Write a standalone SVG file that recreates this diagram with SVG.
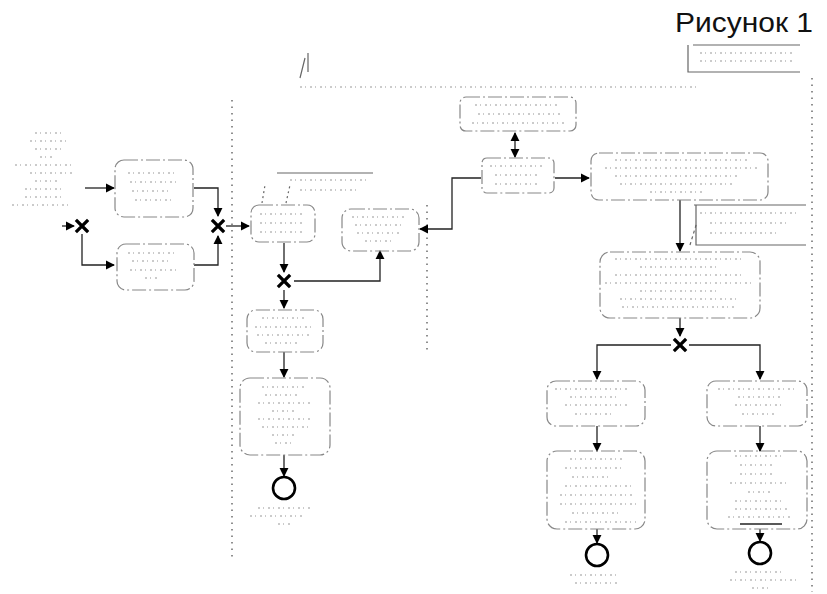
<svg xmlns="http://www.w3.org/2000/svg" width="827" height="594" viewBox="0 0 827 594">
<defs>
<marker id="ah" viewBox="0 0 10 10" refX="9" refY="5" markerWidth="7" markerHeight="7" orient="auto-start-reverse"><path d="M0,0 L10,5 L0,10 z" fill="#000"/></marker>
<style>
.box{fill:none;stroke:#888;stroke-width:1.2;stroke-dasharray:14 3 2 3}
.ln{fill:none;stroke:#222;stroke-width:1.3}
.gw{stroke:#000;stroke-width:3.2;stroke-linecap:square}
.end{fill:none;stroke:#000;stroke-width:2.6}
.lane{stroke:#555;stroke-width:1.3;stroke-dasharray:1.5 5}
.sp{stroke:#bbb;stroke-width:1.3;stroke-dasharray:2 3 1 4}
.ann{fill:none;stroke:#666;stroke-width:1.2}
.title{font-family:"Liberation Sans",Arial,sans-serif;font-size:28px;fill:#111}
</style>
</defs>
<rect width="827" height="594" fill="#fff"/>
<text class="title" x="675" y="32" textLength="138" lengthAdjust="spacingAndGlyphs">Рисунок 1</text>

<g id="lanes">
<line class="lane" x1="232" y1="100" x2="232" y2="560"/>
<line class="lane" x1="427" y1="205" x2="427" y2="350"/>
<line class="lane" x1="812" y1="78" x2="812" y2="592"/>
</g>

<g id="annotations">
<path class="ann" d="M308,53 L308,72 M300,78 L305,58"/>
<path class="ann" d="M693,45 L800,45 M688,45 L688,72 L800,72"/>
<path class="ann" d="M694,205 L806,205 M696,205 L696,245 L806,245"/>
<path class="ann" stroke-dasharray="3 3" d="M690,245 L697,222"/>
<path class="ann" d="M277,173 L373,173"/>
<path class="ann" stroke-dasharray="2 3" d="M262,203 L265,185 M286,203 L290,185"/>
<line class="sp" x1="300" y1="87" x2="700" y2="87"/>
<line class="sp" x1="700" y1="53" x2="795" y2="53"/>
<line class="sp" x1="700" y1="61" x2="795" y2="61"/>
<line class="sp" x1="700" y1="213" x2="800" y2="213"/>
<line class="sp" x1="710" y1="223" x2="790" y2="223"/>
<line class="sp" x1="710" y1="233" x2="780" y2="233"/>
<line class="sp" x1="290" y1="180" x2="370" y2="180"/>
<line class="sp" x1="300" y1="190" x2="360" y2="190"/>
</g>

<g id="lane-label">
<line class="sp" x1="35" y1="133" x2="65" y2="133"/>
<line class="sp" x1="30" y1="141" x2="68" y2="141"/>
<line class="sp" x1="35" y1="149" x2="65" y2="149"/>
<line class="sp" x1="40" y1="157" x2="55" y2="157"/>
<line class="sp" x1="15" y1="165" x2="72" y2="165"/>
<line class="sp" x1="30" y1="173" x2="72" y2="173"/>
<line class="sp" x1="35" y1="181" x2="60" y2="181"/>
<line class="sp" x1="25" y1="189" x2="62" y2="189"/>
<line class="sp" x1="25" y1="197" x2="65" y2="197"/>
<line class="sp" x1="12" y1="205" x2="70" y2="205"/>
</g>

<g id="connectors">
<path class="ln" d="M62,226 L74,226" marker-end="url(#ah)"/>
<path class="ln" d="M82,234 L82,265 L114,265" marker-end="url(#ah)"/>
<path class="ln" d="M85,188 L114,188" marker-end="url(#ah)"/>
<path class="ln" d="M194,188 L218,188 L218,216" marker-end="url(#ah)"/>
<path class="ln" d="M194,265 L218,265 L218,236" marker-end="url(#ah)"/>
<path class="ln" d="M226,226 L249,226" marker-end="url(#ah)"/>
<path class="ln" d="M284,243 L284,272" marker-end="url(#ah)"/>
<path class="ln" d="M284,290 L284,308" marker-end="url(#ah)"/>
<path class="ln" d="M294,281 L380,281 L380,251" marker-end="url(#ah)"/>
<path class="ln" d="M284,352 L284,377" marker-end="url(#ah)"/>
<path class="ln" d="M284,455 L284,476" marker-end="url(#ah)"/>
<path class="ln" d="M481,178 L452,178 L452,229 L420,229" marker-end="url(#ah)"/>
<path class="ln" d="M515,133 L515,157" marker-start="url(#ah)" marker-end="url(#ah)"/>
<path class="ln" d="M555,178 L589,178" marker-end="url(#ah)"/>
<path class="ln" d="M680,200 L680,251" marker-end="url(#ah)"/>
<path class="ln" d="M680,318 L680,336" marker-end="url(#ah)"/>
<path class="ln" d="M671,345 L597,345 L597,379" marker-end="url(#ah)"/>
<path class="ln" d="M689,345 L760,345 L760,379" marker-end="url(#ah)"/>
<path class="ln" d="M597,426 L597,451" marker-end="url(#ah)"/>
<path class="ln" d="M597,529 L597,543" marker-end="url(#ah)"/>
<path class="ln" d="M760,426 L760,451" marker-end="url(#ah)"/>
<path class="ln" d="M760,529 L760,541" marker-end="url(#ah)"/>
<line class="ln" x1="740" y1="524" x2="782" y2="524"/>
</g>

<g id="gw1"><path class="gw" d="M77,221 L87,231 M87,221 L77,231"/></g>
<g id="gw2"><path class="gw" d="M213,221 L223,231 M223,221 L213,231"/></g>
<g id="gw3"><path class="gw" d="M279,276 L289,286 M289,276 L279,286"/></g>
<g id="gw4"><path class="gw" d="M675,340 L685,350 M685,340 L675,350"/></g>

<g id="box1"><rect class="box" x="115" y="160" width="78" height="57" rx="9"/>
<line class="sp" x1="128" y1="173" x2="178" y2="173"/><line class="sp" x1="130" y1="182" x2="176" y2="182"/><line class="sp" x1="132" y1="191" x2="172" y2="191"/><line class="sp" x1="135" y1="200" x2="172" y2="200"/></g>
<g id="box2"><rect class="box" x="117" y="244" width="77" height="46" rx="9"/>
<line class="sp" x1="128" y1="253" x2="178" y2="253"/><line class="sp" x1="132" y1="261" x2="172" y2="261"/><line class="sp" x1="130" y1="270" x2="176" y2="270"/><line class="sp" x1="145" y1="278" x2="160" y2="278"/></g>
<g id="box3"><rect class="box" x="251" y="205" width="64" height="37" rx="8"/>
<line class="sp" x1="260" y1="214" x2="305" y2="214"/><line class="sp" x1="260" y1="223" x2="305" y2="223"/><line class="sp" x1="260" y1="232" x2="303" y2="232"/></g>
<g id="box4"><rect class="box" x="342" y="209" width="77" height="42" rx="9"/>
<line class="sp" x1="352" y1="217" x2="405" y2="217"/><line class="sp" x1="355" y1="225" x2="402" y2="225"/><line class="sp" x1="357" y1="233" x2="400" y2="233"/><line class="sp" x1="365" y1="241" x2="392" y2="241"/></g>
<g id="box13"><rect class="box" x="247" y="310" width="76" height="42" rx="9"/>
<line class="sp" x1="262" y1="318" x2="305" y2="318"/><line class="sp" x1="255" y1="327" x2="312" y2="327"/><line class="sp" x1="257" y1="335" x2="310" y2="335"/><line class="sp" x1="265" y1="343" x2="300" y2="343"/></g>
<g id="box14"><rect class="box" x="240" y="378" width="90" height="77" rx="10"/>
<line class="sp" x1="262" y1="387" x2="305" y2="387"/><line class="sp" x1="265" y1="395" x2="300" y2="395"/><line class="sp" x1="258" y1="403" x2="310" y2="403"/><line class="sp" x1="272" y1="411" x2="295" y2="411"/><line class="sp" x1="258" y1="419" x2="313" y2="419"/><line class="sp" x1="262" y1="427" x2="310" y2="427"/><line class="sp" x1="272" y1="435" x2="296" y2="435"/><line class="sp" x1="275" y1="443" x2="292" y2="443"/></g>
<g id="box6"><rect class="box" x="460" y="97" width="116" height="34" rx="6"/>
<line class="sp" x1="475" y1="105" x2="560" y2="105"/><line class="sp" x1="478" y1="114" x2="560" y2="114"/><line class="sp" x1="472" y1="123" x2="565" y2="123"/></g>
<g id="box5"><rect class="box" x="482" y="158" width="72" height="35" rx="5"/>
<line class="sp" x1="490" y1="166" x2="545" y2="166"/><line class="sp" x1="495" y1="175" x2="540" y2="175"/><line class="sp" x1="495" y1="184" x2="540" y2="184"/></g>
<g id="box7"><rect class="box" x="591" y="153" width="177" height="47" rx="8"/>
<line class="sp" x1="615" y1="160" x2="750" y2="160"/><line class="sp" x1="605" y1="168" x2="760" y2="168"/><line class="sp" x1="615" y1="176" x2="740" y2="176"/><line class="sp" x1="620" y1="184" x2="735" y2="184"/><line class="sp" x1="650" y1="192" x2="705" y2="192"/></g>
<g id="box8"><rect class="box" x="600" y="252" width="160" height="66" rx="10"/>
<line class="sp" x1="615" y1="259" x2="745" y2="259"/><line class="sp" x1="640" y1="267" x2="720" y2="267"/><line class="sp" x1="615" y1="275" x2="745" y2="275"/><line class="sp" x1="605" y1="283" x2="755" y2="283"/><line class="sp" x1="640" y1="291" x2="720" y2="291"/><line class="sp" x1="620" y1="299" x2="740" y2="299"/><line class="sp" x1="622" y1="307" x2="735" y2="307"/></g>
<g id="box9"><rect class="box" x="547" y="381" width="98" height="45" rx="9"/>
<line class="sp" x1="555" y1="389" x2="630" y2="389"/><line class="sp" x1="570" y1="397" x2="620" y2="397"/><line class="sp" x1="565" y1="405" x2="628" y2="405"/><line class="sp" x1="575" y1="414" x2="615" y2="414"/></g>
<g id="box10"><rect class="box" x="707" y="381" width="100" height="45" rx="9"/>
<line class="sp" x1="718" y1="389" x2="795" y2="389"/><line class="sp" x1="738" y1="397" x2="780" y2="397"/><line class="sp" x1="735" y1="405" x2="782" y2="405"/><line class="sp" x1="742" y1="414" x2="775" y2="414"/></g>
<g id="box11"><rect class="box" x="547" y="451" width="98" height="78" rx="10"/>
<line class="sp" x1="570" y1="459" x2="625" y2="459"/><line class="sp" x1="565" y1="468" x2="625" y2="468"/><line class="sp" x1="572" y1="477" x2="612" y2="477"/><line class="sp" x1="565" y1="486" x2="632" y2="486"/><line class="sp" x1="560" y1="495" x2="635" y2="495"/><line class="sp" x1="560" y1="504" x2="637" y2="504"/><line class="sp" x1="572" y1="513" x2="620" y2="513"/><line class="sp" x1="565" y1="522" x2="636" y2="522"/></g>
<g id="box12"><rect class="box" x="707" y="451" width="100" height="78" rx="10"/>
<line class="sp" x1="735" y1="456" x2="785" y2="456"/><line class="sp" x1="740" y1="465" x2="775" y2="465"/><line class="sp" x1="740" y1="474" x2="772" y2="474"/><line class="sp" x1="730" y1="483" x2="790" y2="483"/><line class="sp" x1="748" y1="492" x2="770" y2="492"/><line class="sp" x1="735" y1="501" x2="785" y2="501"/><line class="sp" x1="735" y1="509" x2="790" y2="509"/><line class="sp" x1="728" y1="517" x2="790" y2="517"/></g>

<g id="end1"><circle class="end" cx="284" cy="488" r="11"/>
<line class="sp" x1="258" y1="508" x2="310" y2="508"/><line class="sp" x1="250" y1="516" x2="305" y2="516"/><line class="sp" x1="278" y1="524" x2="292" y2="524"/></g>
<g id="end2"><circle class="end" cx="597" cy="555" r="11"/>
<line class="sp" x1="570" y1="575" x2="620" y2="575"/><line class="sp" x1="575" y1="583" x2="620" y2="583"/></g>
<g id="end3"><circle class="end" cx="760" cy="553" r="11"/>
<line class="sp" x1="735" y1="572" x2="785" y2="572"/><line class="sp" x1="730" y1="580" x2="800" y2="580"/><line class="sp" x1="752" y1="588" x2="768" y2="588"/></g>
</svg>
